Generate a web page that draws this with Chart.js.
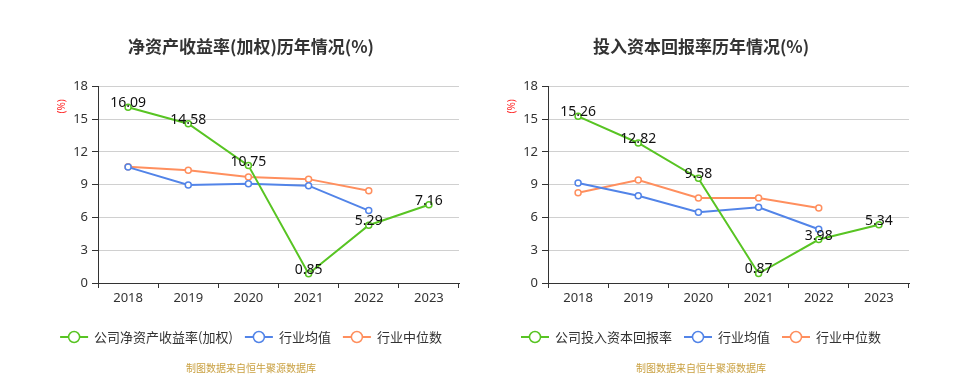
<!DOCTYPE html>
<html>
<head>
<meta charset="utf-8">
<script src="https://cdn.jsdelivr.net/npm/chart.js@4.4.0/dist/chart.umd.min.js"></script>
<style>
    body { margin: 0; background: #fff; width: 979px; height: 388px; position: relative; overflow: hidden; }
    canvas { position: absolute; top: 0; }
</style>
</head>
<body>
<canvas id="roeChart" width="450" height="388" style="left:26px"></canvas>
<canvas id="roicChart" width="450" height="388" style="left:476px"></canvas>
<script>
const years = ['2018', '2019', '2020', '2021', '2022', '2023'];
const yTicks = [0, 3, 6, 9, 12, 15, 18];

const roeCompany = [16.09, 14.58, 10.75, 0.85, 5.29, 7.16];
const roeAvg = [10.61, 8.97, 9.09, 8.91, 6.63, null];
const roeMedian = [10.64, 10.33, 9.70, 9.51, 8.45, null];

const roicCompany = [15.26, 12.82, 9.58, 0.87, 3.98, 5.34];
const roicAvg = [9.15, 7.99, 6.47, 6.93, 4.92, null];
const roicMedian = [8.27, 9.42, 7.78, 7.78, 6.87, null];

const GREEN = '#58c423';
const BLUE = '#5284e8';
const ORANGE = '#ff8f5e';
const FONT = "'Noto Sans', 'Noto Sans CJK SC', sans-serif";
const CJK = "'Noto Sans CJK SC', 'Noto Sans', sans-serif";

// (%) label, value labels, legend and footer
const extras = {
    id: 'extras',
    afterDatasetsDraw(chart) {
        const c = chart.ctx;
        const area = chart.chartArea;
        c.save();

        c.save();
        c.translate(area.left - 36, area.top + 20);
        c.rotate(-Math.PI / 2);
        c.fillStyle = '#ff2a2a';
        c.font = `10px ${FONT}`;
        c.textAlign = 'center';
        c.textBaseline = 'middle';
        c.fillText('(%)', 0, 0);
        c.restore();

        const meta = chart.getDatasetMeta(0);
        const vals = chart.data.datasets[0].data;
        c.fillStyle = '#111';
        c.font = `14px ${FONT}`;
        c.textAlign = 'center';
        c.textBaseline = 'middle';
        meta.data.forEach((pt, i) => {
            if (vals[i] == null) return;
            c.fillText(vals[i].toFixed(2), pt.x, pt.y - 4);
        });

        // legend
        const items = chart.data.datasets.map(d => ({ text: d.label, color: d.borderColor }));
        c.font = `13px ${CJK}`;
        const iconW = 28, gapText = 6, gapItem = 12;
        let total = 0;
        items.forEach((it, i) => {
            it.w = c.measureText(it.text).width;
            total += iconW + gapText + it.w + (i ? gapItem : 0);
        });
        let x = chart.width / 2 - total / 2;
        const ly = 337;
        items.forEach(it => {
            c.strokeStyle = it.color;
            c.lineWidth = 2;
            c.beginPath();
            c.moveTo(x, ly);
            c.lineTo(x + iconW, ly);
            c.stroke();
            c.beginPath();
            c.arc(x + iconW / 2, ly, 5.5, 0, Math.PI * 2);
            c.fillStyle = '#fff';
            c.fill();
            c.lineWidth = 1.5;
            c.stroke();
            c.fillStyle = '#333';
            c.textAlign = 'left';
            c.fillText(it.text, x + iconW + gapText, ly);
            x += iconW + gapText + it.w + gapItem;
        });

        c.fillStyle = '#c9a040';
        c.font = `10px ${CJK}`;
        c.textAlign = 'center';
        c.fillText('制图数据来自恒牛聚源数据库', chart.width / 2, 368);
        c.restore();
    }
};

function series(label, data, color) {
    return {
        label,
        data,
        borderColor: color,
        backgroundColor: '#fff',
        borderWidth: 2,
        pointRadius: 3,
        pointBorderWidth: 1.5,
        pointBackgroundColor: '#fff',
        pointBorderColor: color,
        tension: 0,
        spanGaps: false,
    };
}

function buildChart(id, title, companyLabel, company, avg, median) {
    return new Chart(document.getElementById(id), {
        type: 'line',
        data: {
            labels: years,
            datasets: [
                series(companyLabel, company, GREEN),
                series('行业均值', avg, BLUE),
                series('行业中位数', median, ORANGE),
            ]
        },
        options: {
            responsive: false,
            animation: false,
            devicePixelRatio: 1,
            layout: { padding: { left: 17, right: 17, top: 0, bottom: 83 } },
            plugins: {
                legend: { display: false },
                tooltip: { enabled: false },
                title: {
                    display: true,
                    text: title,
                    color: '#333',
                    font: { family: CJK, size: 17, weight: 'bold' },
                    padding: { top: 36, bottom: 30 },
                },
            },
            scales: {
                x: {
                    offset: true,
                    afterFit: (s) => { s.height = 22; },
                    grid: {
                        offset: true,
                        drawOnChartArea: false,
                        drawTicks: true,
                        tickLength: 5,
                        tickColor: '#333',
                    },
                    border: { color: '#333', width: 1 },
                    ticks: {
                        color: '#333',
                        padding: 2,
                        maxRotation: 0,
                        font: { family: FONT, size: 13 },
                    }
                },
                y: {
                    min: 0,
                    max: 18,
                    afterFit: (s) => { s.width = 55; },
                    afterBuildTicks: (s) => { s.ticks = yTicks.map(v => ({ value: v })); },
                    grid: {
                        color: '#d0d0d0',
                        tickColor: '#333',
                        tickLength: 6,
                    },
                    border: { color: '#333', width: 1 },
                    ticks: {
                        color: '#333',
                        padding: 4,
                        font: { family: FONT, size: 13 },
                    }
                }
            }
        },
        plugins: [extras]
    });
}

buildChart('roeChart', '净资产收益率(加权)历年情况(%)', '公司净资产收益率(加权)', roeCompany, roeAvg, roeMedian);
buildChart('roicChart', '投入资本回报率历年情况(%)', '公司投入资本回报率', roicCompany, roicAvg, roicMedian);
</script>
</body>
</html>
